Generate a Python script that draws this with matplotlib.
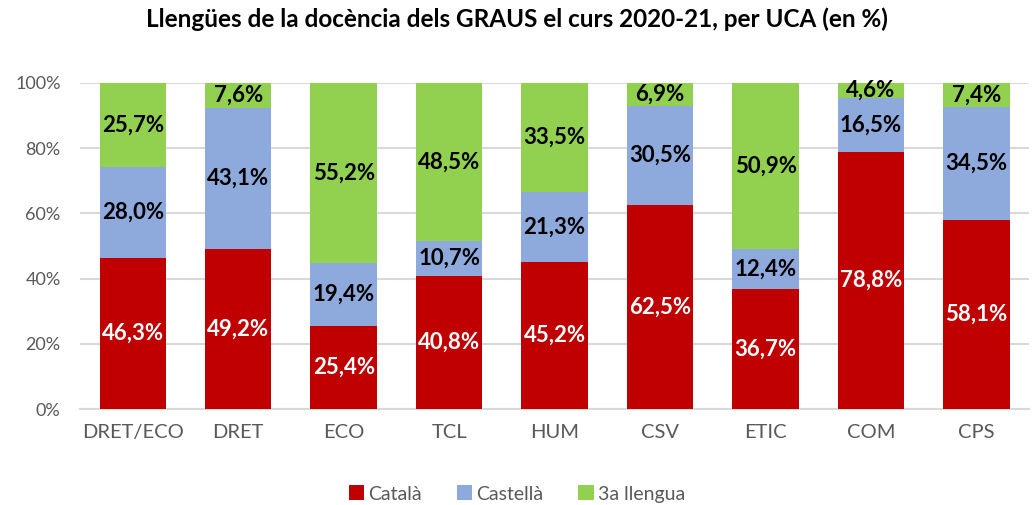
import numpy as np
import matplotlib.pyplot as plt
from matplotlib.ticker import FuncFormatter

plt.rcParams['font.family'] = ['Lato', 'DejaVu Sans']

ucas = ['DRET/ECO', 'DRET', 'ECO', 'TCL', 'HUM', 'CSV', 'ETIC', 'COM', 'CPS']
catala = [46.3, 49.2, 25.4, 40.8, 45.2, 62.5, 36.7, 78.8, 58.1]
castella = [28.0, 43.1, 19.4, 10.7, 21.3, 30.5, 12.4, 16.5, 34.5]
tercera = [25.7, 7.6, 55.2, 48.5, 33.5, 6.9, 50.9, 4.6, 7.4]

series = [('Català', catala, '#C00000', 'white'),
          ('Castellà', castella, '#8EA9DB', 'black'),
          ('3a llengua', tercera, '#92D050', 'black')]

fig = plt.figure(figsize=(10.34, 5.05), dpi=100)
ax = fig.add_axes([0.0774, 0.19, 0.918, 0.646])

x = np.arange(len(ucas))
bottom = np.zeros(len(ucas))
for name, vals, col, tcol in series:
    vals = np.array(vals)
    ax.bar(x, vals, 0.63, bottom=bottom, color=col, label=name, zorder=3)
    for xi, b, v in zip(x, bottom, vals):
        ax.text(xi, b + v / 2, f'{v:.1f}%'.replace('.', ','), ha='center', va='center',
                color=tcol, fontsize=16, fontweight='bold', zorder=4)
    bottom += vals

ax.set_xlim(-0.5, len(ucas) - 0.5)
ax.set_ylim(0, 100)
ax.set_yticks(np.arange(0, 101, 20))
ax.yaxis.set_major_formatter(FuncFormatter(lambda v, p: f'{v:.0f}%'))
ax.set_xticks(x)
ax.set_xticklabels(ucas)
ax.tick_params(axis='both', length=0, colors='#595959')
ax.tick_params(axis='x', pad=11, labelsize=14.5)
ax.tick_params(axis='y', pad=14, labelsize=13)
ax.grid(axis='y', color='#D9D9D9', linewidth=1.5, zorder=0)
for s in ['top', 'right', 'left']:
    ax.spines[s].set_visible(False)
ax.spines['bottom'].set_color('#D9D9D9')
ax.spines['bottom'].set_linewidth(1.5)

fig.suptitle('Llengües de la docència dels GRAUS el curs 2020-21, per UCA (en %)',
             fontsize=17.5, fontweight='bold', y=0.985)
fig.legend(loc='lower center', ncol=3, frameon=False, fontsize=14,
           bbox_to_anchor=(0.5, -0.03), handlelength=0.8, handleheight=0.8,
           handletextpad=0.2, columnspacing=1.8, labelcolor='#595959')

fig.savefig('out.png', dpi=100)
